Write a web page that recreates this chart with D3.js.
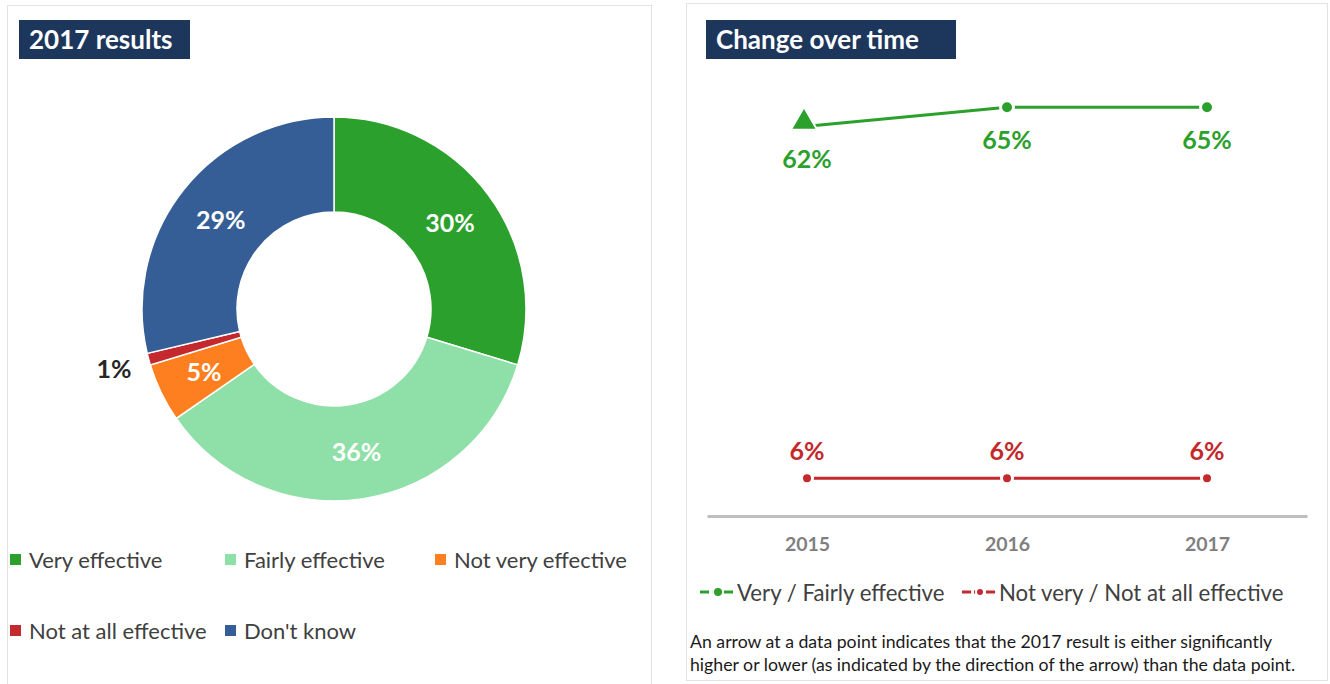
<!DOCTYPE html>
<html>
<head>
<meta charset="utf-8">
<script src="https://cdn.jsdelivr.net/npm/d3@7/dist/d3.min.js"></script>
<style>
  html, body { margin: 0; padding: 0; background: #fff; }
  svg { display: block; font-family: Lato, "Open Sans", sans-serif; }
</style>
</head>
<body>
<svg id="chart" width="1330" height="684"></svg>
<script>
// 2017 breakdown
const categories = ["Very effective", "Fairly effective", "Not very effective", "Not at all effective", "Don't know"];
const shares = [30, 36, 5, 1, 29];
const sliceColors = ["#2ca02c", "#8fdfa8", "#fd7f20", "#c3292d", "#365e96"];

// Trend series
const years = ["2015", "2016", "2017"];
const effective = [62, 65, 65];
const notEffective = [6, 6, 6];
// significance marker per year for the "effective" series ("up" = 2017 higher)
const effectiveArrows = ["up", null, null];
const seriesNames = ["Very / Fairly effective", "Not very / Not at all effective"];
const seriesColors = ["#2ca02c", "#c3292d"];

const svg = d3.select("#chart");

// ---------- panel frames ----------
svg.append("rect").attr("x", 7.5).attr("y", 5.5).attr("width", 644).attr("height", 700)
  .attr("fill", "#fff").attr("stroke", "#e3e3e3");
svg.append("rect").attr("x", 686.5).attr("y", 3.5).attr("width", 641).attr("height", 677)
  .attr("fill", "#fff").attr("stroke", "#e3e3e3");

function titleBox(x, y, w, h, text) {
  svg.append("rect").attr("x", x).attr("y", y).attr("width", w).attr("height", h).attr("fill", "#1c365c");
  svg.append("text").attr("x", x + 10).attr("y", y + h / 2 + 3)
    .attr("dominant-baseline", "middle")
    .attr("fill", "#fff").attr("font-weight", "bold").attr("font-size", 26)
    .text(text);
}
titleBox(19, 20, 171, 39, "2017 results");
titleBox(706, 20, 250, 39, "Change over time");

// ---------- donut ----------
const cx = 334, cy = 309, rOuter = 192, rInner = 97;
const pie = d3.pie().sort(null).value(d => d)(shares);
const arc = d3.arc().innerRadius(rInner).outerRadius(rOuter);
const labelArc = d3.arc().innerRadius((rInner + rOuter) / 2).outerRadius((rInner + rOuter) / 2);
const outerLabelArc = d3.arc().innerRadius(228).outerRadius(228);

const donut = svg.append("g").attr("transform", `translate(${cx},${cy})`);
donut.selectAll("path").data(pie).join("path")
  .attr("d", arc)
  .attr("fill", (d, i) => sliceColors[i])
  .attr("stroke", "#fff").attr("stroke-width", 1.5);

donut.selectAll("text.lbl").data(pie).join("text")
  .attr("class", "lbl")
  .attr("transform", d => `translate(${(d.data < 3 ? outerLabelArc : labelArc).centroid(d)})`)
  .attr("text-anchor", "middle").attr("dy", "0.37em")
  .attr("font-weight", "bold").attr("font-size", 25)
  .attr("fill", d => d.data < 3 ? "#262626" : "#fff")
  .text(d => d.data + "%");

// legend
const legendPos = [[10, 559], [225, 559], [435, 559], [10, 630], [225, 630]];
const leg = svg.append("g");
categories.forEach((c, i) => {
  const [x, y] = legendPos[i];
  leg.append("rect").attr("x", x).attr("y", y - 5).attr("width", 11).attr("height", 11)
    .attr("fill", sliceColors[i]);
  leg.append("text").attr("x", x + 19).attr("y", y)
    .attr("dominant-baseline", "central")
    .attr("font-size", 22).attr("fill", "#404040").text(c);
});

// ---------- trend chart ----------
const x = d3.scalePoint().domain(years).range([707, 1307]).padding(0.5);
const y = d3.scaleLinear().domain([0, 80]).range([516, 13]);

const axis = svg.append("g").attr("transform", "translate(0,516)")
  .call(d3.axisBottom(x).tickSize(0).tickPadding(21));
axis.select(".domain").attr("stroke", "#bfbfbf").attr("stroke-width", 3);
axis.selectAll("text")
  .attr("font-family", "Lato, sans-serif").attr("font-size", 19.5)
  .attr("font-weight", "bold").attr("fill", "#7f7f7f");

const line = d3.line().x((d, i) => x(years[i])).y(d => y(d));

function drawSeries(values, color, r, labelDy, arrows) {
  const g = svg.append("g");
  g.append("path").datum(values).attr("d", line)
    .attr("fill", "none").attr("stroke", color).attr("stroke-width", 3);
  values.forEach((v, i) => {
    const px = x(years[i]), py = y(v);
    const a = arrows && arrows[i];
    if (a) {
      g.append("path")
        .attr("d", d3.symbol(d3.symbolTriangle, 300)())
        .attr("transform", `translate(${px - 3},${py - 4}) rotate(${a === "up" ? 0 : 180})`)
        .attr("fill", color).attr("stroke", "#fff").attr("stroke-width", 2);
    } else {
      g.append("circle").attr("cx", px).attr("cy", py).attr("r", r)
        .attr("fill", color).attr("stroke", "#fff").attr("stroke-width", 3);
    }
    g.append("text").attr("x", px).attr("y", py + labelDy)
      .attr("text-anchor", "middle").attr("dominant-baseline", "central")
      .attr("font-weight", "bold").attr("font-size", 25).attr("fill", color)
      .text(v + "%");
  });
}
drawSeries(effective, seriesColors[0], 6.5, 32, effectiveArrows);
drawSeries(notEffective, seriesColors[1], 5.5, -28, null);

// series legend
const legendX = [700, 962];
seriesNames.forEach((n, i) => {
  const g = svg.append("g").attr("transform", `translate(${legendX[i]},592)`);
  g.append("line").attr("x1", 0).attr("x2", 33).attr("stroke", seriesColors[i]).attr("stroke-width", 3)
    .attr("stroke-dasharray", "9,3");
  g.append("circle").attr("cx", 18).attr("cy", 0).attr("r", i === 0 ? 5 : 4)
    .attr("fill", seriesColors[i]).attr("stroke", "#fff").attr("stroke-width", 2);
  g.append("text").attr("x", 37).attr("y", 0).attr("dominant-baseline", "central")
    .attr("font-size", 22.2).attr("fill", "#404040").text(n);
});

// footnote
const note = svg.append("text").attr("x", 690).attr("font-size", 17.7).attr("fill", "#1a1a1a");
note.append("tspan").attr("x", 690).attr("y", 648)
  .text("An arrow at a data point indicates that the 2017 result is either significantly");
note.append("tspan").attr("x", 690).attr("y", 671)
  .text("higher or lower (as indicated by the direction of the arrow) than the data point.");
</script>
</body>
</html>
